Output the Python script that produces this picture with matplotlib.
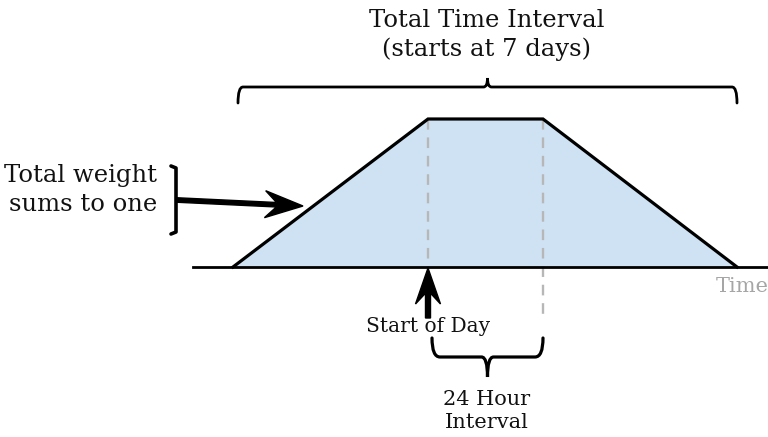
import matplotlib
matplotlib.use("Agg")
import matplotlib.pyplot as plt
from matplotlib.path import Path
from matplotlib.patches import PathPatch

# ---- data (in canvas units, y grows downward) ----
trap_x = [233, 428, 543, 737]          # time positions of the weighting trapezoid
trap_y = [267, 119, 119, 267]          # weight profile (baseline 267, plateau 119)
day_start_x = 428
day_end_x = 543
baseline_y = 267
axis_x = [193, 768]

title_lines = "Total Time Interval\n(starts at 7 days)"
weight_label = "Total weight\nsums to one"
start_label = "Start of Day"
interval_label = "24 Hour\nInterval"
time_label = "Time"

FONT = ["DejaVu Serif"]

fig = plt.figure(figsize=(7.68, 4.37), dpi=100)
ax = fig.add_axes([0, 0, 1, 1])
ax.set_xlim(0, 768)
ax.set_ylim(437, 0)
ax.axis("off")

# trapezoid fill
ax.fill(trap_x, trap_y, color="#cfe2f3", zorder=1, lw=0)
# dashed day boundaries
ax.plot([day_start_x, day_start_x], [trap_y[1], baseline_y], color="#b7b7b7",
        lw=1.7, ls=(0, (4.5, 3.3)), zorder=2)
ax.plot([day_end_x, day_end_x], [trap_y[2], 316], color="#b7b7b7",
        lw=1.7, ls=(0, (4.5, 3.3)), zorder=2)
# trapezoid outline
ax.plot(trap_x, trap_y, color="black", lw=2.3, zorder=3, solid_joinstyle="miter")
# baseline
ax.plot(axis_x, [baseline_y, baseline_y], color="black", lw=2.0, zorder=3)


def brace(x0, x1, y_end, y_flat, y_tip, r=7, rt=5, lw=2.3):
    xm = (x0 + x1) / 2
    verts = [(x0, y_end), (x0, y_flat), (x0 + r, y_flat),
             (xm - rt, y_flat),
             (xm, y_flat), (xm, y_tip),
             (xm, y_flat), (xm + rt, y_flat),
             (x1 - r, y_flat),
             (x1, y_flat), (x1, y_end)]
    codes = [Path.MOVETO, Path.CURVE3, Path.CURVE3,
             Path.LINETO,
             Path.CURVE3, Path.CURVE3,
             Path.CURVE3, Path.CURVE3,
             Path.LINETO,
             Path.CURVE3, Path.CURVE3]
    ax.add_patch(PathPatch(Path(verts, codes), fill=False, lw=lw,
                           edgecolor="black", capstyle="round", zorder=4))


# top brace
brace(238, 737, 103, 87, 78, r=5, rt=4, lw=2.0)
# bottom brace (24 hour)
brace(432, 543, 338, 357, 377, r=8, rt=6, lw=2.3)

# left square bracket
ax.plot([171, 176, 176, 171], [166, 168, 232, 234], color="black", lw=2.6,
        solid_joinstyle="round", solid_capstyle="round", zorder=4)

# arrow to the slope
ax.arrow(177, 200, 126, 6, width=4.5, head_width=27, head_length=38,
         length_includes_head=True, overhang=0.3, color="black", zorder=5)
# arrow up to start of day
ax.arrow(day_start_x, 318, 0, -50, width=5, head_width=25, head_length=36,
         length_includes_head=True, overhang=0.3, color="black", zorder=5)

# texts
ax.text(487, 35, title_lines, ha="center", va="center", fontsize=17.5,
        family=FONT, linespacing=1.3, color="#111111")
ax.text(157, 190, weight_label, ha="right", va="center", fontsize=17.5,
        family=FONT, linespacing=1.28, color="#111111", multialignment="right")
ax.text(428, 326, start_label, ha="center", va="center", fontsize=14.5,
        family=FONT, color="#111111", zorder=6)
ax.text(487, 411, interval_label, ha="center", va="center", fontsize=15,
        family=FONT, linespacing=1.3, color="#111111")
ax.text(716, 286, time_label, ha="left", va="center", fontsize=15,
        family=FONT, color="#a6a6a6")

fig.savefig("out.png", dpi=100)
